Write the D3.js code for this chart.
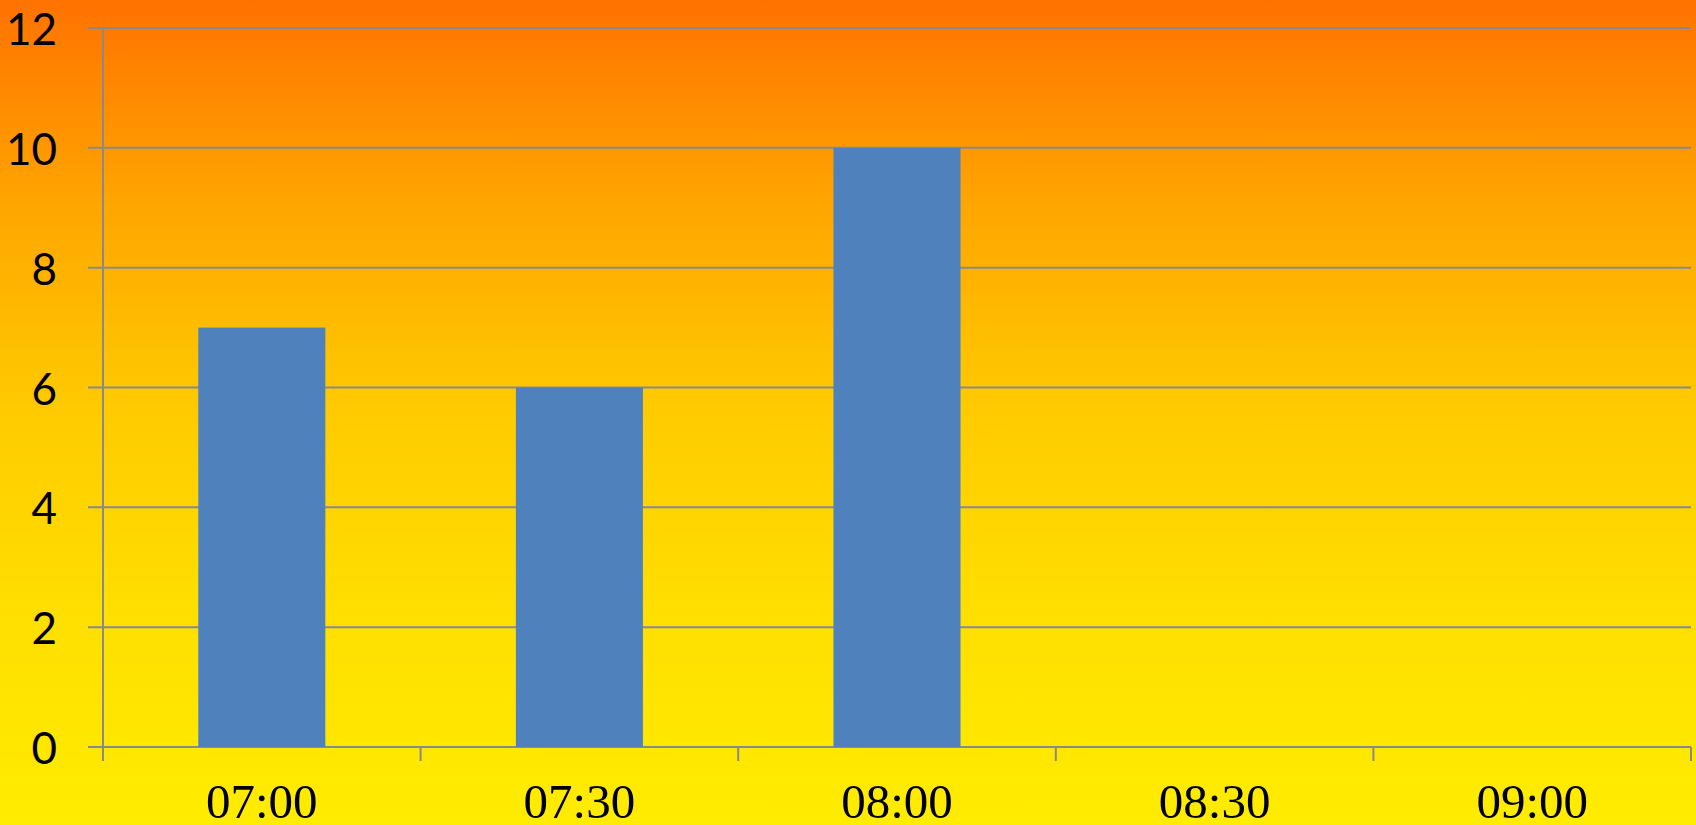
<!DOCTYPE html>
<html>
<head>
<meta charset="utf-8">
<script src="https://cdn.jsdelivr.net/npm/d3@7"></script>
<style>
html,body{margin:0;padding:0;overflow:hidden;}
svg{display:block;}
</style>
</head>
<body>
<svg id="chart" width="1696" height="825"></svg>
<script>
const categories = ["07:00","07:30","08:00","08:30","09:00"];
const values = [7, 6, 10, null, null];
const yTicks = [0, 2, 4, 6, 8, 10, 12];

(function(){
const W = 1696, H = 825;
const mLeft = 103, mRight = 1691, mTop = 28, mBottom = 747;
const svg = d3.select("#chart");

const defs = svg.append("defs");
const grad = defs.append("linearGradient").attr("id","bg").attr("x1",0).attr("y1",0).attr("x2",0).attr("y2",1);
[[0,"#FF7200"],[0.25,"#FFA600"],[0.5,"#FFCB00"],[0.75,"#FFDF00"],[1,"#FFEC00"]].forEach(([o,c])=>
  grad.append("stop").attr("offset",o).attr("stop-color",c));
svg.append("rect").attr("width",W).attr("height",H).attr("fill","url(#bg)");

const x = d3.scaleBand().domain(categories).range([mLeft,mRight]).paddingInner(0.6).paddingOuter(0.3);
const y = d3.scaleLinear().domain([0,12]).range([mBottom,mTop]);

const gridColor = "#8A8A8A";
svg.append("g").selectAll("line").data(yTicks).join("line")
  .attr("x1", mLeft-15).attr("x2", mRight)
  .attr("y1", d=>y(d)).attr("y2", d=>y(d))
  .attr("stroke", gridColor).attr("stroke-width", 2);

svg.append("line").attr("x1",mLeft).attr("x2",mLeft).attr("y1",mTop).attr("y2",mBottom+14)
  .attr("stroke",gridColor).attr("stroke-width",2);

const bounds = categories.map(c => x(c) - x.step()*x.paddingOuter()).concat([mRight]);
svg.append("g").selectAll("line").data(bounds).join("line")
  .attr("x1", d=>d).attr("x2", d=>d).attr("y1", mBottom).attr("y2", mBottom+14)
  .attr("stroke", gridColor).attr("stroke-width", 2);

svg.append("g").selectAll("rect").data(categories.map((c,i)=>({c, v: values[i]})).filter(d=>d.v!=null))
  .join("rect")
  .attr("x", d=>x(d.c)).attr("width", x.bandwidth())
  .attr("y", d=>y(d.v)).attr("height", d=>y(0)-y(d.v))
  .attr("fill", "#4F81BD");

svg.append("g").selectAll("text").data(yTicks).join("text")
  .attr("x", 57).attr("y", d=>y(d))
  .attr("text-anchor","end").attr("dominant-baseline","central")
  .attr("font-family","Lato, 'Open Sans', sans-serif").attr("font-size",44)
  .attr("fill","#000").text(d=>d);

svg.append("g").selectAll("text").data(categories).join("text")
  .attr("x", d=>x(d)+x.bandwidth()/2).attr("y", 818)
  .attr("text-anchor","middle")
  .attr("font-family","'Liberation Serif', 'Times New Roman', serif").attr("font-size",49)
  .attr("fill","#000").text(d=>d);
})();
</script>
</body>
</html>
